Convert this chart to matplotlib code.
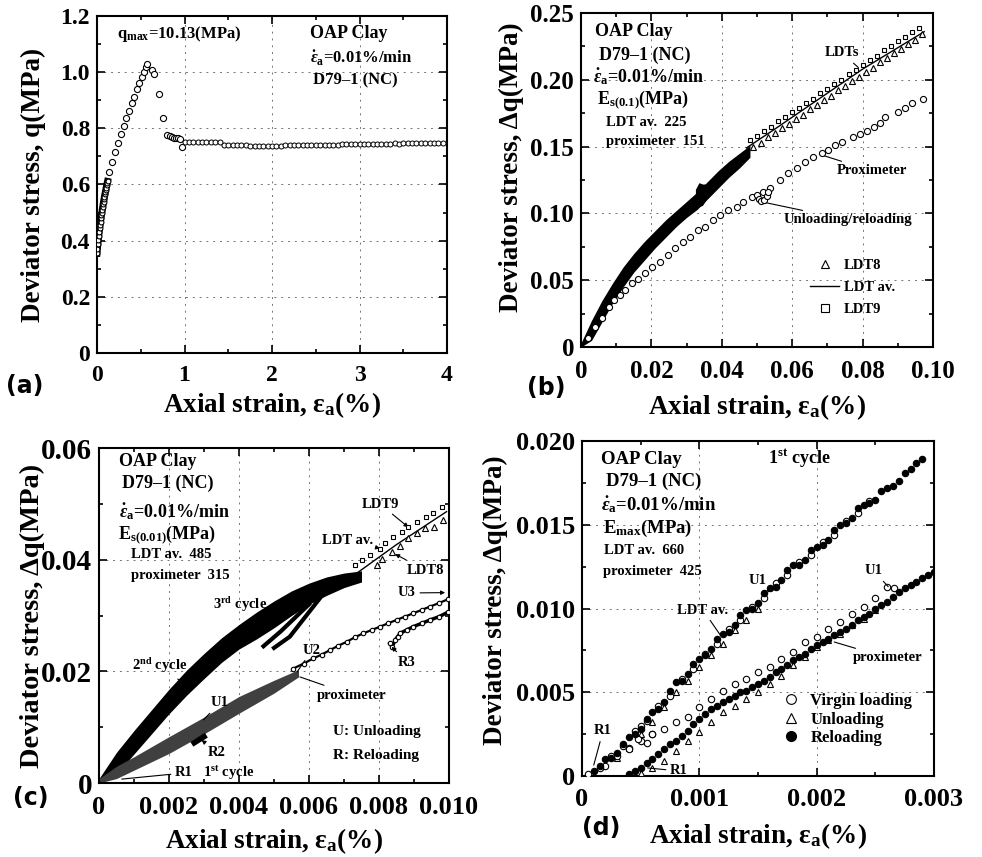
import matplotlib
matplotlib.use("Agg")
import matplotlib.pyplot as plt
from matplotlib.lines import Line2D
from matplotlib.ticker import AutoMinorLocator

plt.rcParams.update({
    "font.family": ["Liberation Serif", "DejaVu Serif"],
    "font.weight": "bold",
    "mathtext.fontset": "custom",
    "mathtext.rm": "Liberation Serif:bold",
    "mathtext.it": "Liberation Serif:italic:bold",
    "mathtext.bf": "Liberation Serif:bold",
    "axes.linewidth": 1.5,
})

W, H = 982, 857

# ---------------- (a) full test ----------------
a_band_x = [0.000, 0.005, 0.010, 0.015, 0.020, 0.025, 0.030, 0.035, 0.040, 0.045, 0.050, 0.055, 0.060,
            0.065, 0.070, 0.075, 0.080, 0.085, 0.090, 0.095, 0.100, 0.105, 0.110, 0.115, 0.120]
a_band_y = [0.355, 0.372, 0.388, 0.403, 0.418, 0.432, 0.445, 0.457, 0.468, 0.479, 0.490, 0.500, 0.510,
            0.520, 0.530, 0.539, 0.548, 0.557, 0.565, 0.573, 0.581, 0.589, 0.597, 0.604, 0.611]
a_pre_x = [0.141, 0.172, 0.206, 0.236, 0.271, 0.305, 0.336, 0.370, 0.397, 0.423, 0.454, 0.484, 0.511, 0.538, 0.561, 0.576]
a_pre_y = [0.644, 0.680, 0.714, 0.747, 0.779, 0.809, 0.837, 0.862, 0.890, 0.913, 0.939, 0.961, 0.982, 1.001, 1.017, 1.030]
a_post_x = [0.625, 0.656, 0.713, 0.755, 0.805, 0.830, 0.854, 0.880, 0.904, 0.930, 0.950, 0.972]
a_post_y = [1.008, 0.994, 0.922, 0.837, 0.775, 0.771, 0.769, 0.767, 0.765, 0.764, 0.762, 0.732]
a_plat_x = [1.00, 1.05, 1.10, 1.15, 1.20, 1.25, 1.30, 1.35, 1.40, 1.45, 1.50, 1.55, 1.60, 1.65, 1.70,
            1.75, 1.80, 1.85, 1.90, 1.95, 2.00, 2.05, 2.10, 2.15, 2.20, 2.25, 2.30, 2.35, 2.40, 2.45,
            2.50, 2.55, 2.60, 2.65, 2.70, 2.75, 2.80, 2.85, 2.90, 2.95, 3.00, 3.05, 3.10, 3.15, 3.20,
            3.25, 3.30, 3.35, 3.40, 3.45, 3.50, 3.55, 3.60, 3.65, 3.70, 3.75, 3.80, 3.85, 3.90, 3.95]
a_plat_y = [0.753, 0.752, 0.752, 0.751, 0.752, 0.751, 0.751, 0.750, 0.750,
            0.742, 0.741, 0.740, 0.740, 0.739, 0.739, 0.738, 0.738, 0.738, 0.737, 0.737, 0.737,
            0.738, 0.738, 0.739, 0.739, 0.739, 0.740, 0.740, 0.740, 0.741, 0.741,
            0.741, 0.742, 0.742, 0.742, 0.742, 0.743, 0.743, 0.743, 0.743, 0.744,
            0.744, 0.744, 0.745, 0.744, 0.745, 0.745, 0.745, 0.746, 0.745, 0.746,
            0.746, 0.746, 0.746, 0.747, 0.746, 0.747, 0.747, 0.747, 0.747]

# ---------------- (b) small strain, 0.1 % ----------------
b_band_x = [0.000, 0.003, 0.006, 0.009, 0.012, 0.015, 0.018, 0.021, 0.024, 0.027, 0.030, 0.033, 0.036, 0.039, 0.042, 0.045, 0.048]
b_band_lo = [0.000, 0.005, 0.019, 0.033, 0.045, 0.056, 0.065, 0.074, 0.082, 0.090, 0.097, 0.103, 0.111, 0.119, 0.127, 0.134, 0.142]
b_band_hi = [0.003, 0.020, 0.035, 0.048, 0.060, 0.070, 0.079, 0.087, 0.095, 0.102, 0.109, 0.116, 0.124, 0.132, 0.139, 0.145, 0.151]
b_loop_x = [0.0325, 0.0335, 0.0345, 0.0355]
b_loop_lo = [0.106, 0.105, 0.106, 0.110]
b_loop_hi = [0.118, 0.123, 0.122, 0.122]
b_av_x = [0.047, 0.055, 0.060, 0.070, 0.080, 0.090, 0.0975]
b_av_y = [0.149, 0.163, 0.172, 0.190, 0.208, 0.224, 0.236]
b_sq_x = [0.048, 0.050, 0.052, 0.054, 0.056, 0.058, 0.060, 0.062, 0.064, 0.066, 0.068, 0.070, 0.072,
          0.074, 0.076, 0.078, 0.080, 0.082, 0.084, 0.086, 0.088, 0.090, 0.092, 0.094, 0.096]
b_sq_y = [0.155, 0.158, 0.162, 0.165, 0.169, 0.172, 0.176, 0.179, 0.183, 0.186, 0.190, 0.193, 0.197,
          0.200, 0.204, 0.207, 0.211, 0.215, 0.218, 0.222, 0.225, 0.229, 0.232, 0.236, 0.239]
b_tri_x = [0.049, 0.051, 0.053, 0.055, 0.057, 0.059, 0.061, 0.063, 0.065, 0.067, 0.069, 0.071, 0.073,
           0.075, 0.077, 0.079, 0.081, 0.083, 0.085, 0.087, 0.089, 0.091, 0.093, 0.095, 0.097]
b_tri_y = [0.150, 0.153, 0.157, 0.160, 0.164, 0.167, 0.171, 0.174, 0.178, 0.181, 0.185, 0.188, 0.192,
           0.195, 0.199, 0.202, 0.206, 0.209, 0.213, 0.216, 0.220, 0.223, 0.227, 0.230, 0.234]
b_prox_x = [0.002, 0.004, 0.006, 0.008, 0.0095, 0.0111, 0.0125, 0.0144, 0.0163, 0.0182, 0.0201, 0.0224,
            0.0248, 0.0267, 0.0291, 0.0310, 0.0333, 0.0352, 0.0376, 0.0395, 0.0418, 0.0442, 0.0461,
            0.0485, 0.0499, 0.0518, 0.0537, 0.0565, 0.0589, 0.0613, 0.0636, 0.0660, 0.0684, 0.0703,
            0.0722, 0.0741, 0.0774, 0.0793, 0.0812, 0.0831, 0.0849, 0.0864, 0.0901, 0.0920, 0.0940, 0.0973]
b_prox_y = [0.007, 0.015, 0.022, 0.030, 0.035, 0.0389, 0.0427, 0.0477, 0.0507, 0.0551, 0.0601, 0.0639,
            0.0689, 0.0739, 0.0788, 0.0826, 0.0876, 0.0900, 0.0951, 0.0988, 0.1025, 0.1050, 0.1088,
            0.1125, 0.1140, 0.1163, 0.1188, 0.1250, 0.1300, 0.1338, 0.1387, 0.1425, 0.1450, 0.1475,
            0.1512, 0.1537, 0.1575, 0.1594, 0.1619, 0.1649, 0.1674, 0.1724, 0.1761, 0.1786, 0.1824, 0.1854]
b_ur_x = [0.0505, 0.0512, 0.0520, 0.0527, 0.0532]
b_ur_y = [0.111, 0.109, 0.110, 0.113, 0.116]

# ---------------- (c) cycles, 0.01 % ----------------
c_band_x = [0.0000, 0.0005, 0.0010, 0.0015, 0.0020, 0.0025, 0.0030, 0.0035, 0.0040, 0.0045, 0.0050,
            0.0055, 0.0060, 0.0065, 0.0070, 0.0075]
c_band_lo = [0.0000, 0.0016, 0.0052, 0.0088, 0.0124, 0.0157, 0.0187, 0.0216, 0.0240, 0.0258, 0.0278,
             0.0300, 0.0320, 0.0336, 0.0350, 0.0360]
c_band_hi = [0.0008, 0.0055, 0.0094, 0.0131, 0.0168, 0.0202, 0.0232, 0.0260, 0.0284, 0.0306, 0.0326,
             0.0344, 0.0358, 0.0369, 0.0376, 0.0380]
c_tail1_x = [0.00470, 0.00520, 0.00600]
c_tail1_y = [0.0245, 0.0272, 0.0320]
c_tail2_x = [0.00500, 0.00545, 0.00630]
c_tail2_y = [0.0242, 0.0262, 0.0330]
c_pband_x = [0.0000, 0.0005, 0.0010, 0.0020, 0.0030, 0.0040, 0.0050, 0.0057]
c_pband_lo = [0.0000, 0.0008, 0.0023, 0.0053, 0.0088, 0.0125, 0.0161, 0.0190]
c_pband_hi = [0.0008, 0.0030, 0.0047, 0.0083, 0.0118, 0.0155, 0.0184, 0.0203]
c_r2_x = [0.00272, 0.00300]
c_r2_y = [0.0072, 0.0083]
c_prox_x = [0.00555, 0.00585, 0.00612, 0.00636, 0.00660, 0.00684, 0.00708, 0.00731, 0.00755, 0.00779,
            0.00803, 0.00826, 0.00850, 0.00874, 0.00898, 0.00922, 0.00946, 0.00970, 0.00997]
c_prox_y = [0.0205, 0.0214, 0.0223, 0.0230, 0.0238, 0.0246, 0.0253, 0.0261, 0.0268, 0.0274,
            0.0280, 0.0286, 0.0292, 0.0298, 0.0304, 0.0310, 0.0316, 0.0322, 0.0329]
c_r3_x = [0.00831, 0.00838, 0.00846, 0.00853, 0.00860, 0.00879, 0.00898, 0.00922, 0.00946, 0.00972, 0.00997]
c_r3_y = [0.0250, 0.0244, 0.0256, 0.0262, 0.0268, 0.0274, 0.0280, 0.0286, 0.0292, 0.0298, 0.0306]
c_av_x = [0.00717, 0.00850, 0.00993]
c_av_y = [0.0367, 0.0427, 0.0486]
c_sq_x = [0.00731, 0.00750, 0.00774, 0.00803, 0.00817, 0.00841, 0.00865, 0.00884, 0.00908, 0.00933, 0.00955, 0.00979]
c_sq_y = [0.0390, 0.0400, 0.0408, 0.0420, 0.0429, 0.0441, 0.0450, 0.0459, 0.0468, 0.0476, 0.0484, 0.0495]
c_tri_x = [0.00793, 0.00808, 0.00836, 0.00860, 0.00884, 0.00908, 0.00931, 0.00957, 0.00982]
c_tri_y = [0.0390, 0.0402, 0.0414, 0.0425, 0.0438, 0.0447, 0.0456, 0.0458, 0.0471]

# ---------------- (d) first cycle ----------------
d_rel_up_x = [0.00010, 0.00015, 0.00020, 0.00025, 0.00030, 0.00035, 0.00040, 0.00045, 0.00050, 0.00055,
              0.00060, 0.00065, 0.00070, 0.00075, 0.00080, 0.00085, 0.00090, 0.00095, 0.00100, 0.00105,
              0.00110, 0.00115, 0.00120, 0.00125, 0.00130, 0.00135, 0.00140, 0.00145, 0.00150, 0.00155,
              0.00160, 0.00165, 0.00170, 0.00175, 0.00180, 0.00185, 0.00190, 0.00195, 0.00200, 0.00205,
              0.00210, 0.00215, 0.00220, 0.00225, 0.00230, 0.00235, 0.00240, 0.00245, 0.00250, 0.00255,
              0.00260, 0.00265, 0.00270, 0.00275, 0.00280, 0.00285, 0.00290]
d_rel_up_y = [0.0003, 0.0006, 0.0010, 0.0011, 0.0014, 0.0019, 0.0023, 0.0025, 0.0028, 0.0034,
              0.0038, 0.0040, 0.0044, 0.0051, 0.0056, 0.0057, 0.0061, 0.0067, 0.0070, 0.0072,
              0.0076, 0.0082, 0.0085, 0.0086, 0.0090, 0.0096, 0.0099, 0.0100, 0.0103, 0.0109,
              0.0112, 0.0113, 0.0117, 0.0123, 0.0126, 0.0126, 0.0129, 0.0135, 0.0137, 0.0138,
              0.0141, 0.0147, 0.0150, 0.0151, 0.0154, 0.0160, 0.0162, 0.0163, 0.0165, 0.0170,
              0.0172, 0.0173, 0.0176, 0.0181, 0.0183, 0.0187, 0.0189]
d_vir_up_x = [0.00005, 0.00015, 0.00025, 0.00035, 0.00045, 0.00055, 0.00065, 0.00075, 0.00085, 0.00095,
              0.00105, 0.00115, 0.00125, 0.00135, 0.00145, 0.00155, 0.00165, 0.00175, 0.00185, 0.00195,
              0.00205, 0.00215, 0.00225, 0.00235, 0.00245, 0.00040, 0.00048, 0.00055, 0.00060, 0.00050]
d_vir_up_y = [0.0001, 0.0005, 0.0012, 0.0018, 0.0027, 0.0033, 0.0042, 0.0048, 0.0058, 0.0064,
              0.0073, 0.0079, 0.0088, 0.0093, 0.0101, 0.0106, 0.0115, 0.0120, 0.0128, 0.0132,
              0.0140, 0.0144, 0.0152, 0.0157, 0.0164, 0.0016, 0.0022, 0.0020, 0.0025, 0.0030]
d_unl_up_x = [0.0003, 0.0004, 0.0005, 0.0006, 0.0007, 0.0008, 0.0009, 0.0010, 0.0011, 0.0012, 0.0013, 0.0014, 0.0015]
d_unl_up_y = [0.0011, 0.0017, 0.0025, 0.0032, 0.0041, 0.0050, 0.0057, 0.0065, 0.0072, 0.0079, 0.0087, 0.0093, 0.0100]
d_rel_lo_x = [0.00040, 0.00045, 0.00050, 0.00055, 0.00060, 0.00065, 0.00070, 0.00075, 0.00080, 0.00085,
              0.00090, 0.00095, 0.00100, 0.00105, 0.00110, 0.00115, 0.00120, 0.00125, 0.00130, 0.00135,
              0.00140, 0.00145, 0.00150, 0.00155, 0.00160, 0.00165, 0.00170, 0.00175, 0.00180, 0.00185,
              0.00190, 0.00195, 0.00200, 0.00205, 0.00210, 0.00215, 0.00220, 0.00225, 0.00230, 0.00235,
              0.00240, 0.00245, 0.00250, 0.00255, 0.00260, 0.00265, 0.00270, 0.00275, 0.00280, 0.00285,
              0.00290, 0.00295, 0.00300]
d_rel_lo_y = [0.0001, 0.0003, 0.0005, 0.0008, 0.0010, 0.0013, 0.0016, 0.0019, 0.0021, 0.0024,
              0.0027, 0.0031, 0.0034, 0.0037, 0.0040, 0.0042, 0.0044, 0.0046, 0.0048, 0.0050,
              0.0051, 0.0053, 0.0055, 0.0057, 0.0059, 0.0062, 0.0064, 0.0066, 0.0069, 0.0071,
              0.0073, 0.0076, 0.0078, 0.0080, 0.0082, 0.0084, 0.0086, 0.0088, 0.0090, 0.0093,
              0.0095, 0.0097, 0.0100, 0.0102, 0.0104, 0.0107, 0.0110, 0.0112, 0.0114, 0.0116,
              0.0118, 0.0120, 0.0122]
d_vir_lo_x = [0.0002, 0.0003, 0.0004, 0.0005, 0.0006, 0.0007, 0.0008, 0.0009, 0.0010, 0.0011, 0.0012, 0.0013,
              0.0014, 0.0015, 0.0016, 0.0017, 0.0018, 0.0019, 0.0020, 0.0021, 0.0022, 0.0023, 0.0024,
              0.0025, 0.0026, 0.00266]
d_vir_lo_y = [0.0006, 0.0012, 0.0017, 0.0021, 0.0025, 0.0028, 0.0032, 0.0035, 0.0041, 0.0046, 0.0051, 0.0055,
              0.0058, 0.0062, 0.0065, 0.0070, 0.0074, 0.0080, 0.0083, 0.0088, 0.0092, 0.0097, 0.0101,
              0.0106, 0.0113, 0.0112]
d_unl_lo_x = [0.0005, 0.0006, 0.0007, 0.0008, 0.0009, 0.0010, 0.0011, 0.0012, 0.0013, 0.0014, 0.0015,
              0.0016, 0.0017, 0.0018, 0.0019, 0.0020, 0.0021, 0.0022, 0.0023, 0.0024, 0.0025]
d_unl_lo_y = [0.0002, 0.0005, 0.0009, 0.0015, 0.0021, 0.0026, 0.0032, 0.0038, 0.0042, 0.0046, 0.0050,
              0.0055, 0.0060, 0.0066, 0.0071, 0.0077, 0.0081, 0.0085, 0.0090, 0.0094, 0.0099]

fig = plt.figure(figsize=(W / 100, H / 100), dpi=100)


def add_axes(l, t, r, b):
    return fig.add_axes([l / W, 1 - b / H, (r - l) / W, (b - t) / H])


def fp(x, y):
    return (x, H - y)


def style(ax, xt, xl, yt, yl, xfs, yfs, xm=2, ym=2):
    ax.set_xlim(xt[0], xt[-1])
    ax.set_ylim(yt[0], yt[-1])
    ax.set_xticks(xt)
    ax.set_xticklabels(xl, fontsize=xfs, fontweight="bold")
    ax.set_yticks(yt)
    ax.set_yticklabels(yl, fontsize=yfs, fontweight="bold")
    ax.xaxis.set_minor_locator(AutoMinorLocator(xm))
    ax.yaxis.set_minor_locator(AutoMinorLocator(ym))
    ax.tick_params(which="both", direction="in", top=True, right=True, width=1.2)
    ax.tick_params(which="major", length=6)
    ax.tick_params(which="minor", length=3)
    ax.tick_params(axis="x", pad=9)
    ax.tick_params(axis="y", pad=5)
    for v in xt[1:-1]:
        ax.axvline(v, color="0.45", lw=0.7, ls=(0, (2, 5)), zorder=0)
    for v in yt[1:-1]:
        ax.axhline(v, color="0.45", lw=0.7, ls=(0, (2, 5)), zorder=0)


def labels(ax, ylab, xoff, yoff, ymid=0.5, yfs=19.5):
    ax.set_xlabel(r"Axial strain, ε$_{\rm a}$(%)", fontsize=19.5, fontweight="bold")
    ax.xaxis.set_label_coords(0.5, -xoff)
    ax.xaxis.label.set_va("center")
    ax.set_ylabel(ylab, fontsize=yfs, fontweight="bold")
    ax.yaxis.set_label_coords(-yoff, ymid)
    ax.yaxis.label.set_va("center")


def txt(s, x, y, fs=10.5, ha="left"):
    fig.text(x / W, 1 - y / H, s, fontsize=fs, fontweight="bold", ha=ha, va="center")


def note(ax, s, pos, tip, fs=10.5, arrow=False):
    ax.annotate(s, xy=tip, xycoords="data", xytext=fp(*pos), textcoords="figure pixels",
                fontsize=fs, fontweight="bold", ha="center", va="center",
                arrowprops=dict(arrowstyle="-|>" if arrow else "-", lw=0.8, color="k",
                                mutation_scale=6, shrinkA=1, shrinkB=0))


op = dict(ls="none", mfc="white", mec="k", mew=0.8)
dot_eps = r"$\dot{\varepsilon}_{\rm a}$=0.01%/min"

# ---- panel (a)
ax = add_axes(97, 16, 447, 353)
ax.plot(a_band_x, a_band_y, "-", color="k", lw=5, zorder=2)
ax.plot(a_band_x, a_band_y, marker="o", ms=3.5, zorder=3, **op)
ax.plot(a_pre_x, a_pre_y, marker="o", ms=4.4, zorder=3, **op)
ax.plot(a_post_x, a_post_y, marker="o", ms=4.4, zorder=3, **op)
ax.plot(a_plat_x, a_plat_y, marker="o", ms=3.6, mew=0.7, ls="none", mfc="white", mec="k", zorder=3)
style(ax, [0, 1, 2, 3, 4], ["0", "1", "2", "3", "4"],
      [0, 0.2, 0.4, 0.6, 0.8, 1.0, 1.2], ["0", "0.2", "0.4", "0.6", "0.8", "1.0", "1.2"], 17, 17)
labels(ax, "Deviator stress, q(MPa)", 0.154, 0.183)
txt(r"q$_{\rm max}$=10.13(MPa)", 117, 34, fs=12)
txt("OAP Clay", 310, 34, fs=13)
txt(dot_eps, 310, 58, fs=12)
txt("D79\u20131 (NC)", 313, 80, fs=12)

# ---- panel (b)
ax = add_axes(581, 13, 933, 347)
ax.fill_between(b_band_x, b_band_lo, b_band_hi, color="k", lw=0, zorder=2)
ax.fill_between(b_loop_x, b_loop_lo, b_loop_hi, color="k", lw=0, zorder=2)
ax.plot(b_av_x, b_av_y, "k-", lw=1.0, zorder=3)
ax.plot(b_sq_x, b_sq_y, marker="s", ms=3.4, zorder=4, **op)
ax.plot(b_tri_x, b_tri_y, marker="^", ms=3.8, zorder=4, **op)
ax.plot(b_prox_x, b_prox_y, marker="o", ms=4.4, zorder=4, **op)
ax.plot(b_ur_x, b_ur_y, marker="o", ms=4.4, zorder=4, **op)
style(ax, [0, 0.02, 0.04, 0.06, 0.08, 0.10], ["0", "0.02", "0.04", "0.06", "0.08", "0.10"],
      [0, 0.05, 0.10, 0.15, 0.20, 0.25], ["0", "0.05", "0.10", "0.15", "0.20", "0.25"], 18, 18)
labels(ax, "Deviator stress, Δq(MPa)", 0.18, 0.199, ymid=0.537)
txt("OAP Clay", 595, 32, fs=13)
txt("D79\u20131 (NC)", 599, 55, fs=13)
txt(dot_eps, 593, 77, fs=13)
txt(r"E$_{\rm s(0.1)}$(MPa)", 597, 100, fs=13)
txt("LDT av.  225", 606, 123, fs=10.5)
txt("proximeter  151", 606, 142, fs=10.5)
note(ax, "LDTs", (842, 53), (0.0788, 0.2092))
note(ax, "Proximeter", (872, 171), (0.0684, 0.1437))
note(ax, "Unloading/reloading", (848, 220), (0.0511, 0.1088))
hb = [Line2D([], [], marker="^", ms=6, **op), Line2D([], [], color="k", lw=1.0),
      Line2D([], [], marker="s", ms=6, **op)]
ax.legend(hb, ["LDT8", "LDT av.", "LDT9"], loc="upper left", bbox_to_anchor=(810 / W, 1 - 259 / H),
          bbox_transform=fig.transFigure, frameon=False, borderpad=0, borderaxespad=0,
          handlelength=2.0, handletextpad=0.3, labelspacing=0.6,
          prop={"size": 10.5, "weight": "bold"})

# ---- panel (c)
ax = add_axes(99, 448, 449, 783)
ax.fill_between(c_band_x, c_band_lo, c_band_hi, color="k", lw=0, zorder=2)
ax.plot(c_tail1_x, c_tail1_y, "k-", lw=3, zorder=2)
ax.plot(c_tail2_x, c_tail2_y, "k-", lw=3, zorder=2)
ax.fill_between(c_pband_x, c_pband_lo, c_pband_hi, color="0.25", lw=0, zorder=2)
ax.plot(c_r2_x, c_r2_y, "k-", lw=4, zorder=2)
ax.plot(c_prox_x, c_prox_y, "k-", lw=1.6, zorder=2)
ax.plot(c_prox_x, c_prox_y, marker="o", ms=3.2, zorder=3, **op)
ax.plot(c_r3_x, c_r3_y, "k-", lw=2.5, zorder=2)
ax.plot(c_r3_x, c_r3_y, marker="o", ms=3.2, zorder=3, **op)
ax.plot(c_av_x, c_av_y, "k-", lw=1.0, zorder=3)
ax.plot(c_sq_x, c_sq_y, marker="s", ms=3.4, zorder=4, **op)
ax.plot(c_tri_x, c_tri_y, marker="^", ms=3.8, zorder=4, **op)
style(ax, [0, 0.002, 0.004, 0.006, 0.008, 0.010], ["0", "0.002", "0.004", "0.006", "0.008", "0.010"],
      [0, 0.02, 0.04, 0.06], ["0", "0.02", "0.04", "0.06"], 19, 21)
labels(ax, "Deviator stress, Δq(MPa)", 0.173, 0.191, yfs=20.5)
txt("OAP Clay", 119, 461, fs=13)
txt("D79\u20131 (NC)", 122, 483, fs=13)
txt(dot_eps, 119, 512, fs=13)
txt(r"E$_{\rm s(0.01)}$(MPa)", 118, 535, fs=13)
txt("LDT av.  485", 131, 555, fs=10.5)
txt("proximeter  315", 131, 576, fs=10.5)
note(ax, "LDT9", (380, 504), (0.00884, 0.0458), arrow=True)
note(ax, "LDT av.", (348, 540), (0.00803, 0.0420), arrow=True)
note(ax, "LDT8", (425, 570), (0.00846, 0.0410), arrow=True)
note(ax, "U3", (407, 593), (0.00989, 0.0341), arrow=True)
note(ax, "R3", (407, 662), (0.00836, 0.0244), arrow=True)
note(ax, r"3$^{\rm rd}$ cycle", (240, 605), (0.00494, 0.0292))
note(ax, r"2$^{\rm nd}$ cycle", (160, 666), (0.0026, 0.0170))
note(ax, "U2", (312, 650), (0.00566, 0.0199))
note(ax, "proximeter", (352, 695), (0.00574, 0.0190))
note(ax, "U1", (220, 703), (0.00298, 0.0113))
note(ax, "R2", (217, 752), (0.00293, 0.0077), arrow=True)
note(ax, "R1", (184, 773), (0.00065, 0.0007))
txt(r"1$^{\rm st}$ cycle", 203, 773, fs=10.5)
txt("U: Unloading", 333, 732, fs=11)
txt("R: Reloading", 333, 756, fs=11)

# ---- panel (d)
ax = add_axes(582, 441, 934, 776)
ms_d = 4.6
ax.plot(d_unl_lo_x, d_unl_lo_y, marker="^", ms=ms_d, zorder=3, **op)
ax.plot(d_unl_up_x, d_unl_up_y, marker="^", ms=ms_d, zorder=3, **op)
ax.plot(d_vir_lo_x, d_vir_lo_y, marker="o", ms=ms_d, zorder=3, **op)
ax.plot(d_vir_up_x, d_vir_up_y, marker="o", ms=ms_d, zorder=3, **op)
ax.plot(d_rel_lo_x, d_rel_lo_y, marker="o", ms=ms_d, ls="none", mfc="k", mec="k", mew=0.8, zorder=4)
ax.plot(d_rel_up_x, d_rel_up_y, marker="o", ms=ms_d, ls="none", mfc="k", mec="k", mew=0.8, zorder=4)
style(ax, [0, 0.001, 0.002, 0.003], ["0", "0.001", "0.002", "0.003"],
      [0, 0.005, 0.010, 0.015, 0.020], ["0", "0.005", "0.010", "0.015", "0.020"], 19, 19)
labels(ax, "Deviator stress, Δq(MPa)", 0.179, 0.247, ymid=0.525)
txt("OAP Clay", 601, 460, fs=13.5)
txt("D79\u20131 (NC)", 606, 481, fs=13.5)
txt(dot_eps, 601, 505, fs=13.5)
txt(r"E$_{\rm max}$(MPa)", 603, 528, fs=13.5)
txt("LDT av.  660", 604, 550, fs=10.5)
txt("proximeter  425", 603, 571, fs=10.5)
txt(r"1$^{\rm st}$ cycle", 799, 458, fs=13, ha="center")
note(ax, "U1", (758, 580), (0.00159, 0.0110))
note(ax, "LDT av.", (703, 610), (0.00118, 0.0084))
note(ax, "U1", (874, 571), (0.00261, 0.0113))
note(ax, "proximeter", (888, 658), (0.00215, 0.0080))
note(ax, "R1", (603, 731), (0.0001, 0.00065))
note(ax, "R1", (679, 771), (0.00056, 0.00048))
hd = [Line2D([], [], marker="o", ms=7, **op), Line2D([], [], marker="^", ms=7, **op),
      Line2D([], [], marker="o", ms=7, ls="none", mfc="k", mec="k")]
ax.legend(hd, ["Virgin loading", "Unloading", "Reloading"], loc="upper left",
          bbox_to_anchor=(783 / W, 1 - 693 / H), bbox_transform=fig.transFigure, frameon=False,
          borderpad=0, borderaxespad=0, handlelength=1.0, handletextpad=0.65, labelspacing=0.15,
          prop={"size": 12, "weight": "bold"})

# panel letters
for s, x, y in [("(a)", 25, 386), ("(b)", 546, 388), ("(c)", 31, 798), ("(d)", 601, 828)]:
    fig.text(x / W, 1 - y / H, s, fontsize=17, fontweight="bold", family="DejaVu Sans",
             ha="center", va="center")

fig.savefig("out.png", dpi=100)
